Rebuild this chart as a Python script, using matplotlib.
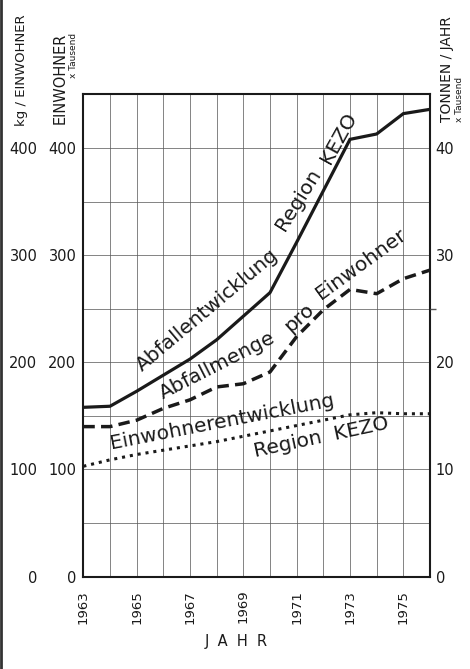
import matplotlib
matplotlib.use("Agg")
import matplotlib.pyplot as plt
from matplotlib import font_manager
from matplotlib.lines import Line2D

# data
years = list(range(1963, 1977))
abfall_t = [15.8, 15.9, 17.3, 18.8, 20.3, 22.1, 24.3, 26.5, 31.2, 36.0, 40.8, 41.3, 43.2, 43.6]  # Tonnen/Jahr x1000
abfall_kg_ew = [140, 140, 146, 157, 165, 177, 180, 191, 224, 249, 268, 264, 278, 286]  # kg/Einwohner
einwohner = [103, 109, 114, 118, 122, 126, 131, 136, 141, 146, 151, 153, 152, 152]  # Einwohner x1000

year_ticks = list(range(1963, 1976, 2))
left_ticks = [0, 100, 200, 300, 400]
right_ticks = [0, 10, 20, 30, 40]

names = {f.name for f in font_manager.fontManager.ttflist}
NARROW = "Liberation Sans Narrow" if "Liberation Sans Narrow" in names else "DejaVu Sans"
TICK_FS = 12 if NARROW != "DejaVu Sans" else 10.5
INK = "#1a1a1a"

fig = plt.figure(figsize=(4.70, 6.69), dpi=100, facecolor="white")
ax = fig.add_axes([0.1773, 0.138, 0.7376, 0.721])
ax.set_xlim(1963, 1976)
ax.set_ylim(0, 450)

ax.set_xticks(year_ticks)
ax.set_xticklabels([str(y) for y in year_ticks], rotation=90, fontsize=TICK_FS - 1,
                   family=NARROW, color=INK)
ax.set_xticks(years, minor=True)
ax.set_yticks(left_ticks)
ax.set_yticklabels([str(v) for v in left_ticks], fontsize=TICK_FS, family=NARROW, color=INK)
ax.set_yticks(range(50, 451, 100), minor=True)
ax.tick_params(which="both", length=0)
ax.tick_params(axis="x", pad=9.5)
ax.tick_params(axis="y", pad=5)
ax.grid(which="both", color="#5a5a5a", lw=0.7, alpha=0.75)
ax.set_axisbelow(True)
for sp in ax.spines.values():
    sp.set_linewidth(1.5)
    sp.set_color(INK)

# outer column of left labels (kg / Einwohner)
sec = ax.secondary_yaxis("left")
sec.set_yticks(left_ticks)
sec.set_yticklabels([str(v) for v in left_ticks], fontsize=TICK_FS, family=NARROW, color=INK)
sec.tick_params(length=0, pad=33)
sec.spines["left"].set_visible(False)

# right axis: Tonnen / Jahr
ax2 = ax.twinx()
ax2.set_ylim(0, 45)
ax2.set_yticks(right_ticks)
ax2.set_yticklabels([str(v) for v in right_ticks], fontsize=TICK_FS, family=NARROW, color=INK)
ax2.set_yticks([25], minor=True)
ax2.tick_params(which="major", length=0, pad=4)
ax2.tick_params(which="minor", length=4, width=1, color="#555555")
for sp in ax2.spines.values():
    sp.set_visible(False)

ax2.plot(years, abfall_t, color=INK, lw=2.3, solid_joinstyle="miter")
ax.plot(years, abfall_kg_ew, color=INK, lw=2.5, linestyle=(0, (3.3, 1.8)))
ax.plot(years, einwohner, color=INK, lw=2.2, linestyle=(0, (1, 1.6)))

lab = dict(fontsize=14.5, color=INK, ha="left", va="baseline", rotation_mode="anchor")
ax.text(1965.2, 191, "Abfallentwicklung", rotation=40, **lab)
ax.text(1970.56, 322, "Region", rotation=58, **lab)
ax.text(1972.26, 384, "KEZO", rotation=61, **lab)
ax.text(1966.0, 165, "Abfallmenge", rotation=27, **lab)
ax.text(1970.75, 227, "pro", rotation=42, **lab)
ax.text(1971.93, 258, "Einwohner", rotation=36, **lab)
ax.text(1964.06, 119, "Einwohnerentwicklung", rotation=11, **lab)
ax.text(1969.43, 112, "Region  KEZO", rotation=12, **lab)

# axis titles
fig.text(22 / 470, 1 - 70 / 669, "kg / EINWOHNER", rotation=90, ha="center", va="center",
         fontsize=TICK_FS - 1, family=NARROW, color=INK)
fig.text(60 / 470, 1 - 78.5 / 669, "EINWOHNER", rotation=90, ha="center", va="center",
         fontsize=TICK_FS, family=NARROW, color=INK)
fig.text(74 / 470, 1 - 55 / 669, "x Tausend", rotation=90, ha="center", va="center",
         fontsize=6.5, family=NARROW, color=INK)
fig.text(446.7 / 470, 1 - 69 / 669, "TONNEN / JAHR", rotation=90, ha="center", va="center",
         fontsize=TICK_FS - 0.5, family=NARROW, color=INK)
fig.text(460 / 470, 1 - 99 / 669, "x Tausend", rotation=90, ha="center", va="center",
         fontsize=6.5, family=NARROW, color=INK)
fig.text(236 / 470, 1 - 641.7 / 669, "J  A  H  R", ha="center", va="center",
         fontsize=TICK_FS, family=NARROW, color=INK)

# dark scan edge on the left
fig.add_artist(Line2D([0.003, 0.003], [0, 1], transform=fig.transFigure, color="#333333", lw=2))

fig.savefig("out.png", dpi=100, facecolor="white")
